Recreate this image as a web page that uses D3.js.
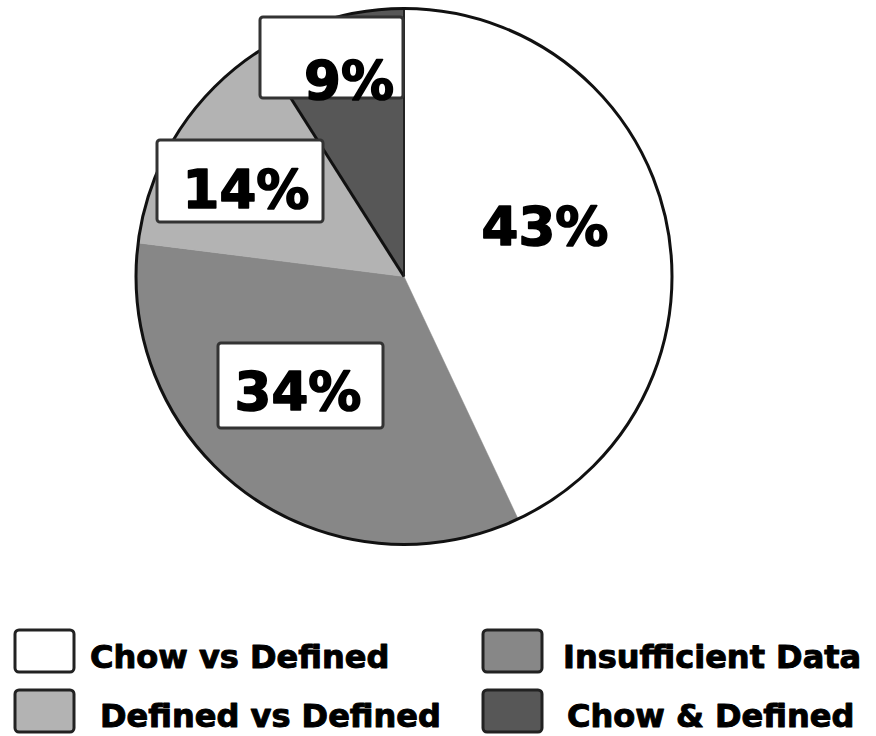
<!DOCTYPE html>
<html>
<head>
<meta charset="utf-8">
<script src="https://cdn.jsdelivr.net/npm/d3@7"></script>
<style>
  html, body { margin: 0; padding: 0; background: #fff; }
  svg { display: block; }
  text { font-family: "DejaVu Sans", sans-serif; font-weight: bold; fill: #000; stroke: #000; stroke-linejoin: round; }
</style>
</head>
<body>
<svg id="chart" width="876" height="736"></svg>
<script>
// Share of comparisons by outcome (percent)
const categories = ["Chow vs Defined", "Insufficient Data", "Defined vs Defined", "Chow & Defined"];
const values = [43, 34, 14, 9];
const fills = ["#ffffff", "#878787", "#b3b3b3", "#575757"];

// Legend order (two columns, two rows)
const legendOrder = ["Chow vs Defined", "Insufficient Data", "Defined vs Defined", "Chow & Defined"];

// Label placement: text centre, baseline and optional white callout box
const labelLayout = [
  { tx: 545, ty: 245, box: null },
  { tx: 298, ty: 410, box: [218, 343, 165, 85] },
  { tx: 246, ty: 208, box: [157, 140, 166, 82] },
  { tx: 349, ty: 99,  box: [260, 17, 143, 81] }
];

const svg = d3.select("#chart");
const cx = 404, cy = 276.5, r = 268;

const pie = d3.pie().sort(null).value(d => d)(values);
const arc = d3.arc().innerRadius(0).outerRadius(r);

const g = svg.append("g").attr("transform", `translate(${cx},${cy})`);

g.selectAll("path.slice")
  .data(pie)
  .join("path")
  .attr("class", "slice")
  .attr("d", arc)
  .attr("fill", (d, i) => fills[i])
  .attr("stroke", (d, i) => fills[i])
  .attr("stroke-width", 0.5);

// Dark edges bounding the smallest slice
const last = pie[pie.length - 1];
const edge = a => [r * Math.sin(a), -r * Math.cos(a)];
const [ex, ey] = edge(last.startAngle);
g.append("line").attr("x1", 0).attr("y1", 0).attr("x2", ex).attr("y2", ey)
  .attr("stroke", "#111").attr("stroke-width", 3);
g.append("line").attr("x1", 0).attr("y1", 0).attr("x2", 0).attr("y2", -r)
  .attr("stroke", "#222").attr("stroke-width", 2);

// Pie outline
g.append("circle").attr("r", r).attr("fill", "none")
  .attr("stroke", "#111").attr("stroke-width", 3);

// Percentage labels
const fmt = v => `${v}%`;
values.forEach((v, i) => {
  const L = labelLayout[i];
  if (L.box) {
    svg.append("rect")
      .attr("x", L.box[0]).attr("y", L.box[1])
      .attr("width", L.box[2]).attr("height", L.box[3])
      .attr("rx", 3)
      .attr("fill", "#fff").attr("stroke", "#333").attr("stroke-width", 3);
  }
  svg.append("text")
    .attr("x", L.tx).attr("y", L.ty)
    .attr("text-anchor", "middle")
    .attr("font-size", 53)
    .attr("stroke-width", 1.6)
    .text(fmt(v));
});

// Legend
const colX = [15, 483];
const rowY = [630, 690];
const textX = [[90, 563], [100, 567]];
const baseY = [668, 727];
legendOrder.forEach((name, k) => {
  const row = Math.floor(k / 2), col = k % 2;
  const idx = categories.indexOf(name);
  svg.append("rect")
    .attr("x", colX[col]).attr("y", rowY[row])
    .attr("width", 59).attr("height", 42)
    .attr("rx", 4)
    .attr("fill", fills[idx]).attr("stroke", "#222").attr("stroke-width", 3);
  svg.append("text")
    .attr("x", textX[row][col]).attr("y", baseY[row])
    .attr("font-size", 32)
    .attr("stroke-width", 1)
    .text(name);
});
</script>
</body>
</html>
